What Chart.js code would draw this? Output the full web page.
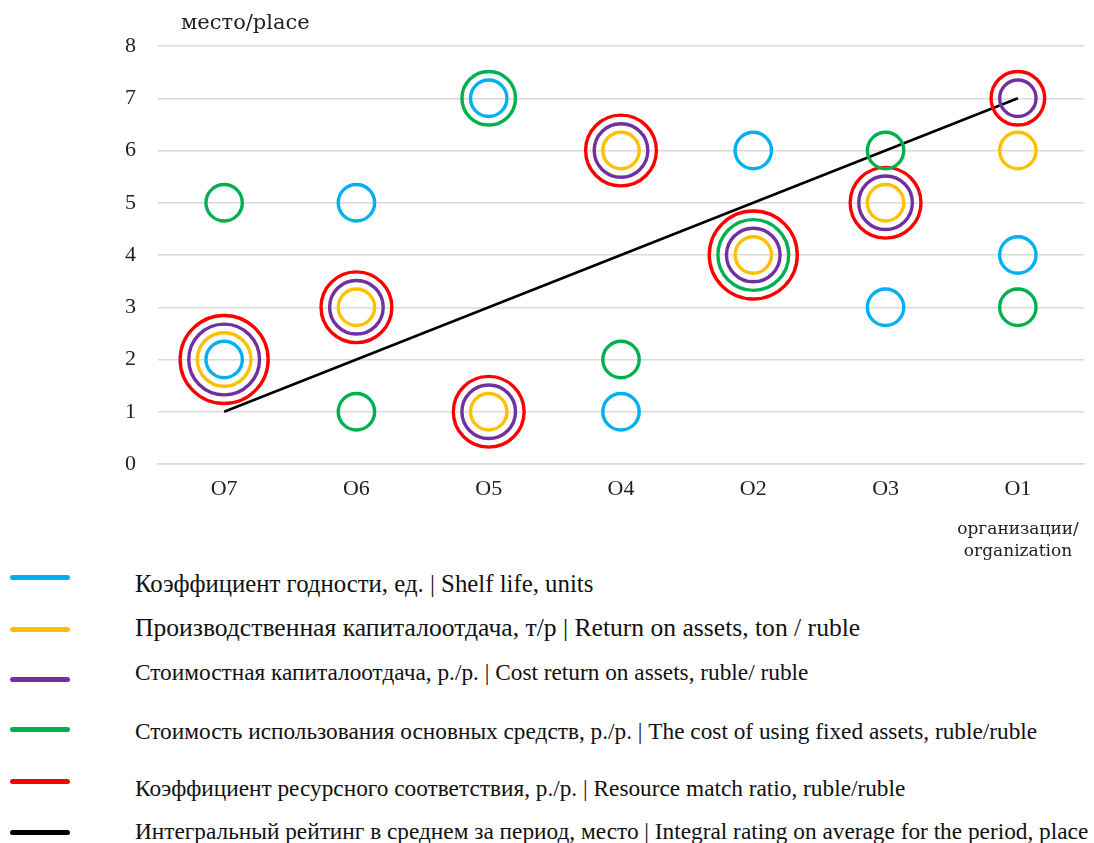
<!DOCTYPE html>
<html><head><meta charset="utf-8">
<script src="https://cdn.jsdelivr.net/npm/chart.js@4.4.1/dist/chart.umd.min.js"></script>
<style>
html,body{margin:0;padding:0;background:#fff;}
#wrap{position:relative;width:1094px;height:843px;font-family:"Liberation Serif","Times New Roman",serif;color:#111;overflow:hidden;}
#c{position:absolute;left:0;top:0;}
.lab{position:absolute;font-family:"DejaVu Serif",serif;white-space:nowrap;color:#222;}
.sw{position:absolute;left:10px;width:60px;height:5px;border-radius:3px;}
.tx{position:absolute;left:135px;white-space:nowrap;line-height:26px;}
</style></head>
<body><div id="wrap">
<canvas id="c" width="1094" height="570"></canvas>
<div class="lab" style="left:181px;top:10px;font-size:21px;">место/place</div>
<div class="lab" style="left:938px;top:517px;width:160px;text-align:center;line-height:22px;font-size:17px;">организации/<br>organization</div>
<div id="legend"></div>
</div>
<script>
const categories = ["O7","O6","O5","O4","O2","O3","O1"];
const shelfLife      = [2,5,7,1,6,3,4];
const returnOnAssets = [2,3,1,6,4,5,6];
const costReturn     = [2,3,1,6,4,5,7];
const costFixed      = [5,1,7,2,4,6,3];
const resourceMatch  = [2,3,1,6,4,5,7];
const integralRating = [1,2,3,4,5,6,7];
const yTicks = [0,1,2,3,4,5,6,7,8];

const seriesNames = [
 "Коэффициент годности, ед. | Shelf life, units",
 "Производственная капиталоотдача, т/р | Return on assets, ton / ruble",
 "Стоимостная капиталоотдача, р./р. | Cost return on assets, ruble/ ruble",
 "Стоимость использования основных средств, р./р. | The cost of using fixed assets, ruble/ruble",
 "Коэффициент ресурсного соответствия, р./р. | Resource match ratio, ruble/ruble",
 "Интегральный рейтинг в среднем за период, место | Integral rating on average for the period, place"
];
const colors = ["#00B0F0","#FFC000","#7030A0","#00B050","#FF0000","#000000"];
const rankSeries = [shelfLife, returnOnAssets, costReturn, costFixed, resourceMatch];

function ringRadius(ctx){
  const ds = ctx.datasetIndex, i = ctx.dataIndex;
  const v = rankSeries[ds][i];
  let k = 0;
  for (let j = 0; j < ds; j++) if (rankSeries[j][i] === v) k++;
  return 18.2 + 8.6*k;
}

const datasets = rankSeries.map((arr, idx) => ({
  label: seriesNames[idx],
  data: arr,
  showLine: false,
  borderColor: colors[idx],
  backgroundColor: 'rgba(0,0,0,0)',
  pointBackgroundColor: 'rgba(0,0,0,0)',
  pointBorderColor: colors[idx],
  pointBorderWidth: 3.4,
  pointRadius: ringRadius,
  pointHoverRadius: ringRadius,
  pointStyle: 'circle'
}));
datasets.push({
  label: seriesNames[5],
  data: integralRating,
  borderColor: '#000',
  borderWidth: 2.6,
  pointRadius: 0,
  fill: false,
  tension: 0
});

new Chart(document.getElementById('c'), {
  type: 'line',
  data: {labels: categories, datasets},
  options: {
    responsive: false,
    animation: false,
    events: [],
    clip: false,
    layout: {autoPadding: false, padding: {left: 0, right: 10, top: 46, bottom: 0}},
    plugins: {legend: {display: false}, tooltip: {enabled: false}},
    scales: {
      x: {
        offset: true,
        grid: {display: false, drawTicks: false},
        border: {display: true, color: '#d9d9d9', width: 1.5},
        ticks: {color: '#222', font: {family: "Liberation Serif", size: 22}, padding: 12},
        afterFit: s => { s.height = 570 - 464; }
      },
      y: {
        min: 0, max: 8,
        afterBuildTicks: s => { s.ticks = yTicks.map(v => ({value: v})); },
        grid: {color: '#d9d9d9', lineWidth: 1.5, drawTicks: false},
        border: {display: false},
        ticks: {color: '#222', font: {family: "Liberation Serif", size: 22}, padding: 22},
        afterFit: s => { s.width = 158; }
      }
    }
  }
});

const legend = document.getElementById('legend');
const swatchY = [577, 629, 679, 729, 781, 832];
const textCapY = [585, 630, 672, 731, 788, 831];
const textSize = [24.8, 25.6, 23.3, 23.3, 23.3, 23.3];
seriesNames.forEach((n, i) => {
  const sw = document.createElement('div');
  sw.className = 'sw';
  sw.style.top = (swatchY[i] - 2.5) + 'px';
  sw.style.background = colors[i];
  legend.appendChild(sw);
  const tx = document.createElement('div');
  tx.className = 'tx';
  tx.style.fontSize = textSize[i] + 'px';
  tx.style.top = (textCapY[i] - 13.2 * textSize[i] / 23.3) + 'px';
  tx.textContent = n;
  legend.appendChild(tx);
});
</script>
</body></html>
